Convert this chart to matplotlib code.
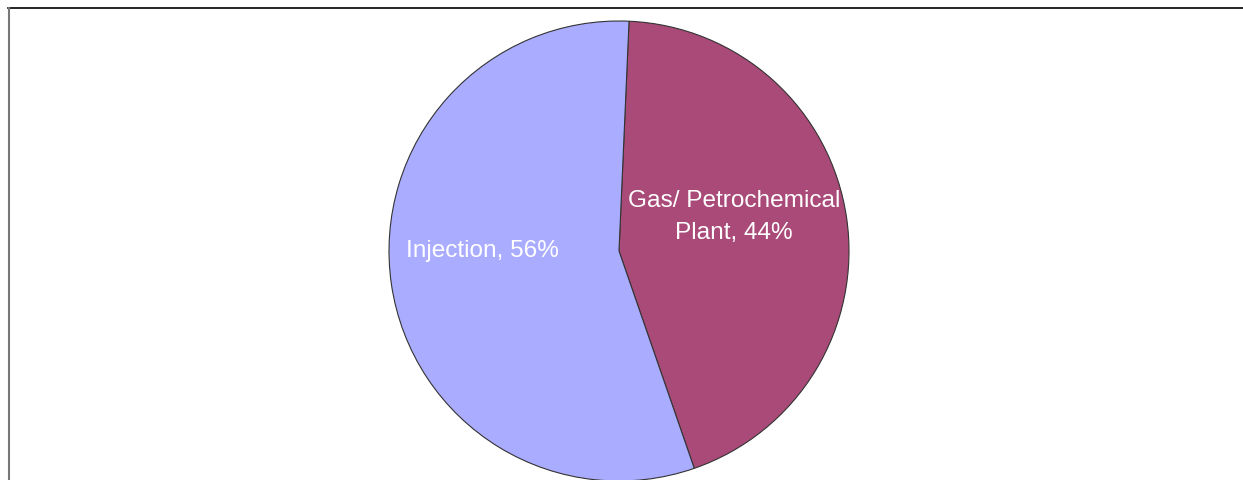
import matplotlib
matplotlib.use("Agg")
import matplotlib.pyplot as plt
from matplotlib.lines import Line2D

categories = ["Gas/ Petrochemical\nPlant", "Injection"]
values = [44, 56]
colors = ["#A94A78", "#AAACFF"]

W, H = 1243, 481
fig = plt.figure(figsize=(W / 100, H / 100), dpi=100)
fig.patch.set_facecolor("white")

cx, cy, r = 619, 252, 230
ax = fig.add_axes([(cx - r) / W, (H - cy - r) / H, 2 * r / W, 2 * r / H])
wedges, _ = ax.pie(values, colors=colors, startangle=87.5, counterclock=False,
                   radius=1.0, wedgeprops=dict(edgecolor="#333333", linewidth=0.8))
for w in wedges:
    w.set_clip_on(False)
ax.set_xlim(-1, 1)
ax.set_ylim(-1, 1)
ax.set_aspect("auto")
ax.axis("off")

def px(x, y):
    return ((x - cx) / r, (cy - y) / r)

lx, ly = px(734, 217)
ax.text(lx, ly, f"{categories[0]}, {values[0]}%", ha="center", va="center",
        color="white", fontsize=17.6, family="Liberation Sans", linespacing=1.55)
lx, ly = px(482, 251)
ax.text(lx, ly, f"{categories[1]}, {values[1]}%", ha="center", va="center",
        color="white", fontsize=17.6, family="Liberation Sans")

# frame lines
fig.add_artist(Line2D([8 / W, 1243 / W], [(H - 9) / H, (H - 9) / H],
                      transform=fig.transFigure, color="black", linewidth=1.2))
fig.add_artist(Line2D([8.5 / W, 8.5 / W], [(H - 9) / H, 0],
                      transform=fig.transFigure, color="#777777", linewidth=1.5))

fig.savefig("out.png", dpi=100, facecolor="white")
